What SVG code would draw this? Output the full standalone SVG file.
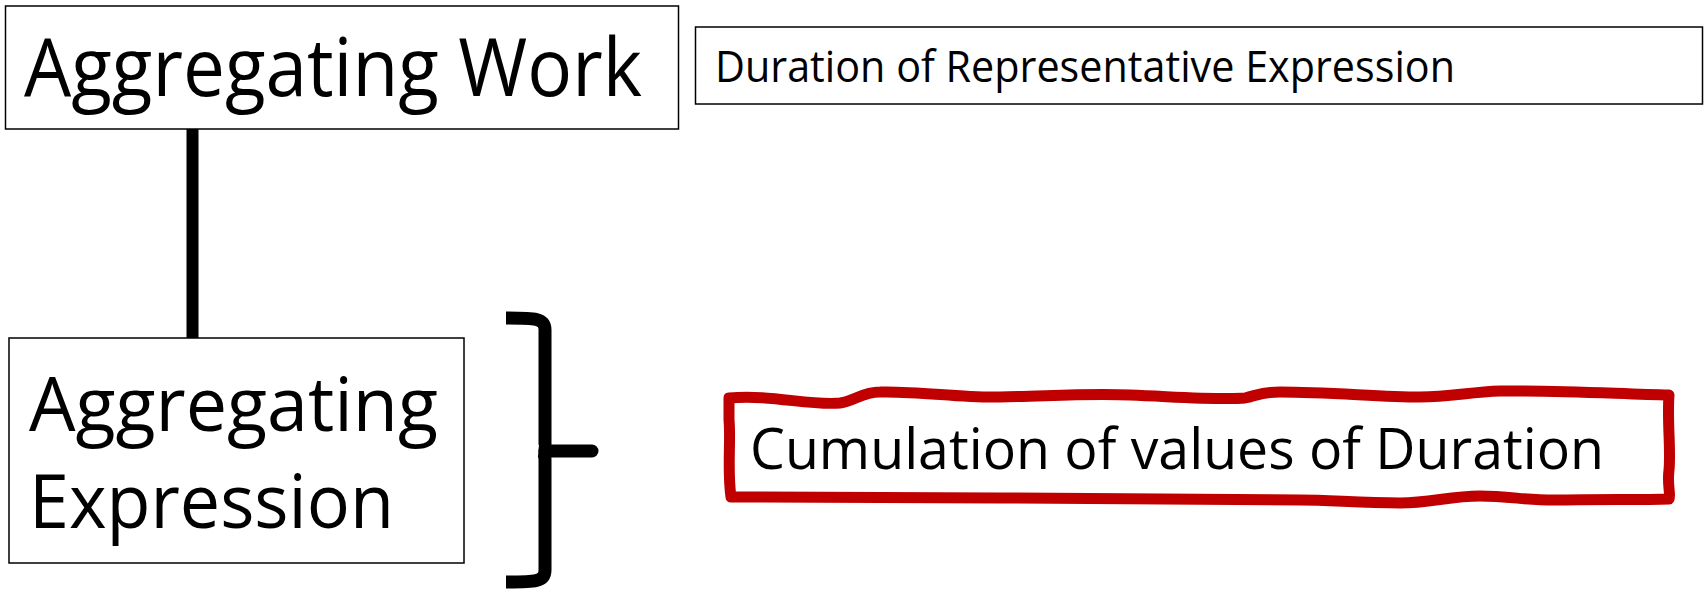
<svg xmlns="http://www.w3.org/2000/svg" width="1705" height="591" viewBox="0 0 1705 591">
<style>
.box{fill:#fff;stroke:#000;stroke-width:1.5}
.t{font-family:"Open Sans","Liberation Sans",sans-serif;fill:#000}
.conn{stroke:#000;fill:none}
</style>
<rect width="1705" height="591" fill="#fff"/>
<g id="connectors">
<line class="conn" x1="192.5" y1="129" x2="192.5" y2="338" stroke-width="12"/>
</g>
<g id="aggregating-work">
<rect class="box" x="5.5" y="6" width="673" height="123"/>
<text class="t" x="24" y="96" font-size="80" textLength="618" lengthAdjust="spacingAndGlyphs">Aggregating Work</text>
</g>
<g id="duration-rep">
<rect class="box" x="695.5" y="27" width="1007" height="77"/>
<text class="t" x="715" y="82" font-size="43" textLength="740" lengthAdjust="spacingAndGlyphs">Duration of Representative Expression</text>
</g>
<g id="aggregating-expression">
<rect class="box" x="9" y="338" width="455" height="225"/>
<text class="t" x="29" y="431" font-size="75" textLength="409" lengthAdjust="spacingAndGlyphs">Aggregating</text>
<text class="t" x="29" y="528" font-size="75" textLength="365" lengthAdjust="spacingAndGlyphs">Expression</text>
</g>
<g id="brace">
<path class="conn" stroke-width="13" d="M506,318 C535,318 545,318 545,330 L545,444 Q545,451 539,451 Q545,452 545,460 L545,570 C545,582 535,582 506,582"/>
<path class="conn" stroke-width="13" stroke-linecap="round" d="M545,451 L592,451"/>
</g>
<g id="cumulation">
<path fill="#fff" stroke="#C00000" stroke-width="11" stroke-linejoin="round" d="M729,398 C770,394 810,406 840,403 C855,401 862,392 880,392 C920,391 960,398 1000,397 C1050,396 1090,393 1130,395 C1180,397 1220,400 1245,398 C1258,395 1262,392 1280,392 C1330,392 1380,397 1420,397 C1450,397 1470,392 1500,391 C1560,390 1620,394 1669,395 C1667,420 1671,450 1669,470 C1667,485 1671,495 1669,499 C1640,500 1600,499 1560,500 C1530,501 1510,496 1480,496 C1450,496 1430,503 1400,503 C1360,503 1330,500 1300,500 C1200,500 1100,499 1000,498 C900,497 800,497 731,497 C727,470 731,440 729,420 Z"/>
<text class="t" x="750" y="469" font-size="56" textLength="854" lengthAdjust="spacingAndGlyphs">Cumulation of values of Duration</text>
</g>
</svg>
